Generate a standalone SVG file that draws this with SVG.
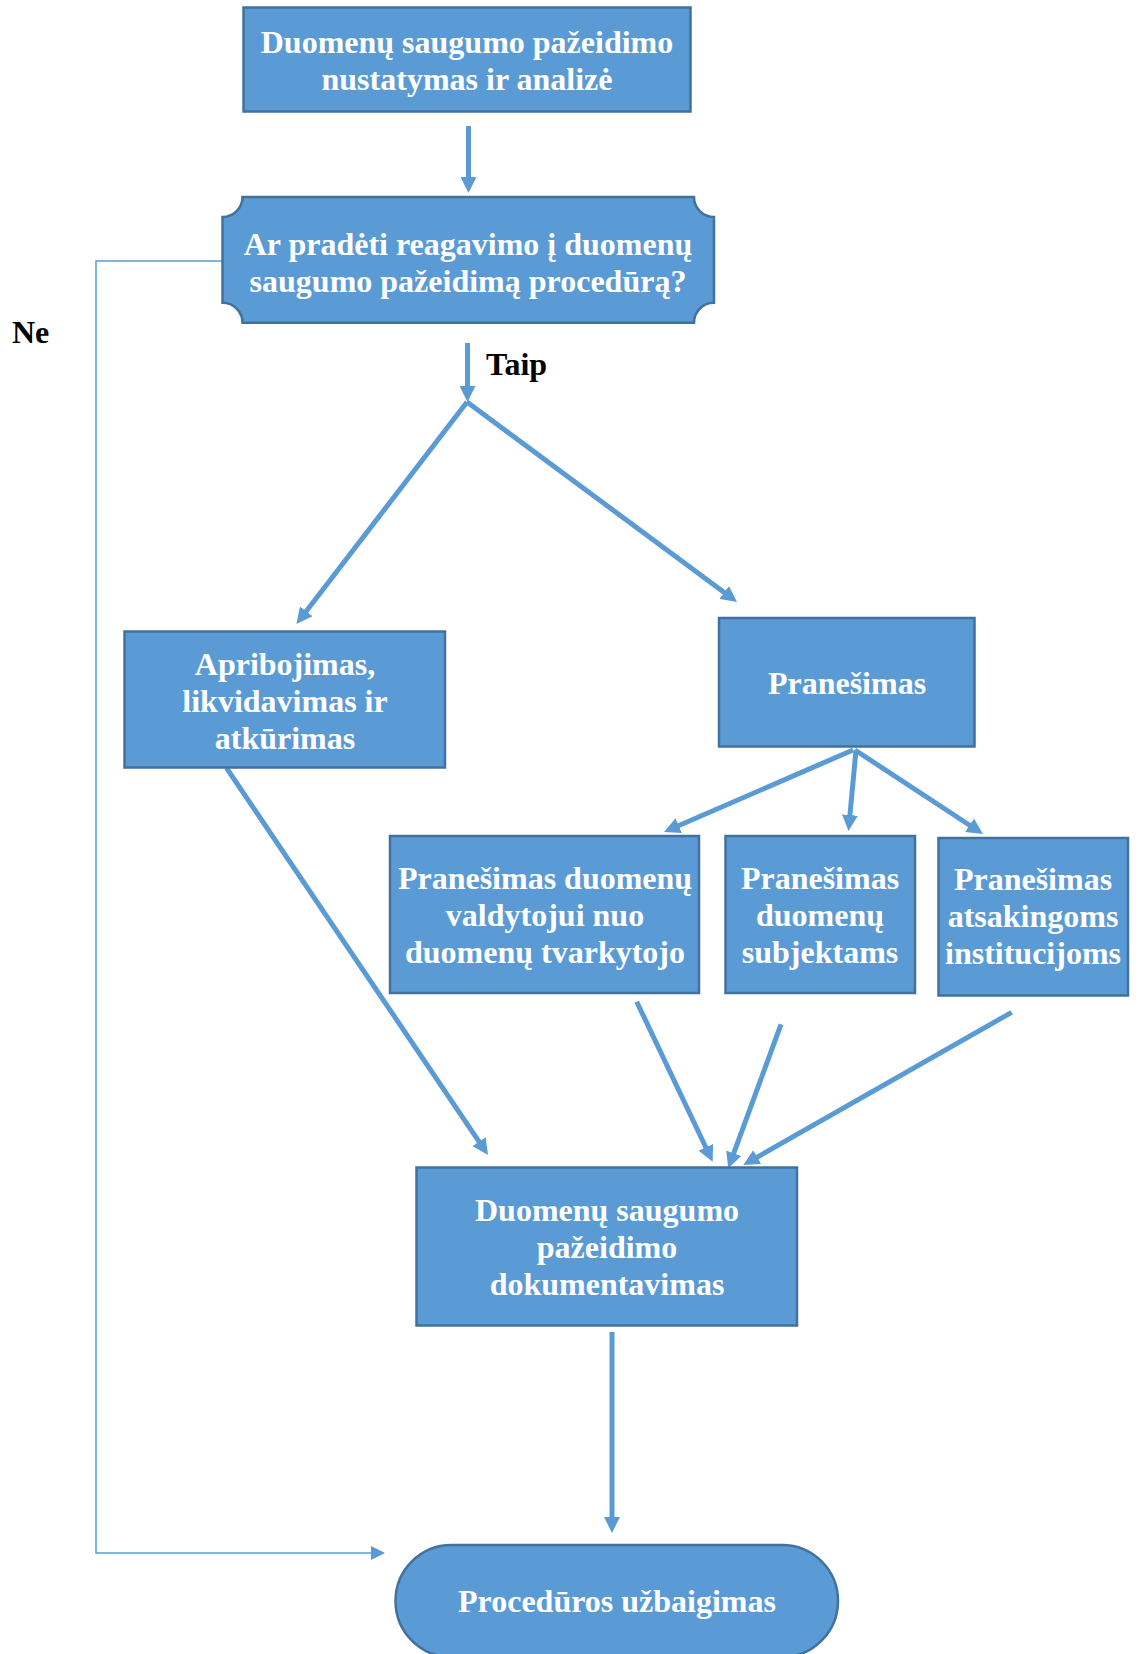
<svg xmlns="http://www.w3.org/2000/svg" width="1141" height="1654" viewBox="0 0 1141 1654">
<style>
.box{fill:#5b9bd5;stroke:#41719c;stroke-width:2.5}
.t{font-family:"Liberation Serif","Times New Roman",serif;font-weight:bold;font-size:32px;fill:#ffffff;text-anchor:middle}
.lbl{font-family:"Liberation Serif","Times New Roman",serif;font-weight:bold;font-size:32px;fill:#000000}
.c{fill:none;stroke:#5b9bd5;stroke-width:5;marker-end:url(#ah)}
.thin{fill:none;stroke:#5b9bd5;stroke-width:1.5;marker-end:url(#ahs)}
</style>
<defs>
<marker id="ah" viewBox="0 0 16 16" markerWidth="16" markerHeight="16" markerUnits="userSpaceOnUse" refX="6" refY="8" orient="auto">
<path d="M0,0 L16,8 L0,16 Z" fill="#5b9bd5"/>
</marker>
<marker id="ahs" viewBox="0 0 14 14" markerWidth="14" markerHeight="14" markerUnits="userSpaceOnUse" refX="4" refY="7" orient="auto">
<path d="M0,0 L14,7 L0,14 Z" fill="#5b9bd5"/>
</marker>
</defs>
<rect width="1141" height="1654" fill="#ffffff"/>
<g id="connectors">
<line class="c" x1="468.5" y1="126" x2="468.5" y2="183"/>
<line class="c" x1="467.5" y1="343" x2="467.5" y2="392"/>
<line class="c" x1="467" y1="402" x2="302.6" y2="616.1"/>
<line class="c" x1="467" y1="402" x2="729" y2="596"/>
<line class="c" x1="853" y1="750" x2="673.2" y2="828"/>
<line class="c" x1="856" y1="750" x2="849.4" y2="821"/>
<line class="c" x1="855" y1="750" x2="974.6" y2="828.5"/>
<line class="c" x1="226.5" y1="768" x2="482.4" y2="1146.7"/>
<line class="c" x1="636.7" y1="1001.7" x2="708.4" y2="1152.7"/>
<line class="c" x1="781" y1="1024.3" x2="731.7" y2="1158.9"/>
<line class="c" x1="1011.7" y1="1012.3" x2="752" y2="1160.1"/>
<line class="c" x1="612" y1="1332" x2="612" y2="1523"/>
<polyline class="thin" points="222.5,261 96,261 96,1553 375,1553"/>
<text class="lbl" x="12" y="343">Ne</text>
<text class="lbl" x="486" y="375">Taip</text>
</g>
<g id="n1">
<rect class="box" x="243.5" y="7.5" width="447" height="104"/>
<text class="t" x="467" y="53">Duomenų saugumo pažeidimo</text>
<text class="t" x="467" y="90">nustatymas ir analizė</text>
</g>
<g id="n2">
<path class="box" d="M242.5,197 H694 A20,20 0 0 0 714,217 V302.7 A20,20 0 0 0 694,322.7 H242.5 A20,20 0 0 0 222.5,302.7 V217 A20,20 0 0 0 242.5,197 Z"/>
<text class="t" x="468" y="255">Ar pradėti reagavimo į duomenų</text>
<text class="t" x="468" y="292">saugumo pažeidimą procedūrą?</text>
</g>
<g id="n3">
<rect class="box" x="124.5" y="631.5" width="320.5" height="136"/>
<text class="t" x="285" y="675">Apribojimas,</text>
<text class="t" x="285" y="712">likvidavimas ir</text>
<text class="t" x="285" y="749">atkūrimas</text>
</g>
<g id="n4">
<rect class="box" x="719" y="618" width="255.5" height="128.5"/>
<text class="t" x="847" y="694">Pranešimas</text>
</g>
<g id="n5">
<rect class="box" x="390" y="836" width="309" height="157"/>
<text class="t" x="545" y="889">Pranešimas duomenų</text>
<text class="t" x="545" y="926">valdytojui nuo</text>
<text class="t" x="545" y="963">duomenų tvarkytojo</text>
</g>
<g id="n6">
<rect class="box" x="725.5" y="836" width="189.5" height="157"/>
<text class="t" x="820" y="889">Pranešimas</text>
<text class="t" x="820" y="926">duomenų</text>
<text class="t" x="820" y="963">subjektams</text>
</g>
<g id="n7">
<rect class="box" x="938.5" y="838" width="189.5" height="157.5"/>
<text class="t" x="1033" y="890">Pranešimas</text>
<text class="t" x="1033" y="927">atsakingoms</text>
<text class="t" x="1033" y="964">institucijoms</text>
</g>
<g id="n8">
<rect class="box" x="416.5" y="1167.5" width="380.5" height="158"/>
<text class="t" x="607" y="1221">Duomenų saugumo</text>
<text class="t" x="607" y="1258">pažeidimo</text>
<text class="t" x="607" y="1295">dokumentavimas</text>
</g>
<g id="n9">
<rect class="box" x="395.5" y="1545" width="442.5" height="112" rx="56" ry="56"/>
<text class="t" x="617" y="1612">Procedūros užbaigimas</text>
</g>
</svg>
